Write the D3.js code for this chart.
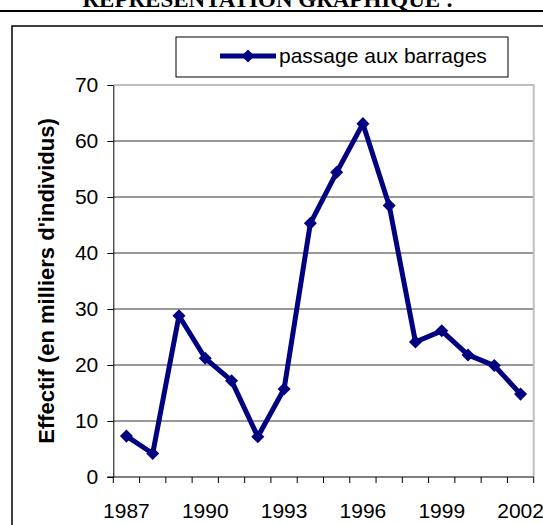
<!DOCTYPE html>
<html><head><meta charset="utf-8">
<script src="https://cdn.jsdelivr.net/npm/d3@7/dist/d3.min.js"></script>
<style>body{margin:0;background:#fff}svg{display:block}</style>
</head><body>
<script>
const years = [1987,1988,1989,1990,1991,1992,1993,1994,1995,1996,1997,1998,1999,2000,2001,2002];
const passage = [7.3,4.2,28.8,21.2,17.2,7.2,15.7,45.3,54.4,63.1,48.5,24.1,26.1,21.8,19.9,14.8];
const yTicks = [0,10,20,30,40,50,60,70];
const xLabels = [1987,1990,1993,1996,1999,2002];
const seriesName = "passage aux barrages";
const yTitle = "Effectif (en milliers d'individus)";
const pageTitle = "REPRÉSENTATION GRAPHIQUE :";

const W = 543, H = 525;
const svg = d3.select("body").append("svg").attr("width", W).attr("height", H);

// page title (cut at top) and rule
svg.append("text").attr("x", 268).attr("y", 7).attr("text-anchor", "middle")
  .attr("font-family", "Liberation Serif, serif").attr("font-weight", "bold")
  .attr("font-size", 23).text(pageTitle);
svg.append("line").attr("x1", 0).attr("x2", W).attr("y1", 11).attr("y2", 11)
  .attr("stroke", "#000").attr("stroke-width", 2);

// chart border
svg.append("rect").attr("x", 12).attr("y", 26).attr("width", 560).attr("height", 520)
  .attr("fill", "none").attr("stroke", "#000").attr("stroke-width", 1.5);

const x0 = 113.3, x1 = 533.7, yBot = 477, yTop = 85;
const x = d3.scaleBand().domain(years).range([x0, x1]);
const y = d3.scaleLinear().domain([0, 70]).range([yBot, yTop]);

// gridlines
svg.append("g").selectAll("line").data(yTicks.filter(v => v > 0 && v < 70)).join("line")
  .attr("x1", x0).attr("x2", x1).attr("y1", d => y(d)).attr("y2", d => y(d))
  .attr("stroke", "#333").attr("stroke-width", 1);

// plot area border (top/right gray)
svg.append("path").attr("d", `M${x0},${y(70)}H${x1}V${yBot}`)
  .attr("fill", "none").attr("stroke", "#c0c0c0").attr("stroke-width", 2);

// y axis
const yAxis = d3.axisLeft(y).tickValues(yTicks).tickSize(6).tickPadding(9).tickSizeOuter(0);
const gy = svg.append("g").attr("transform", `translate(${x0},0)`).call(yAxis);
gy.select(".domain").attr("stroke", "#000");
gy.selectAll(".tick line").attr("stroke", "#000");
gy.selectAll("text").attr("font-family", "Liberation Sans, Arial, sans-serif")
  .attr("font-size", 21).attr("fill", "#000");

// x axis: ticks at band boundaries, labels at band centers
const boundaries = years.map(d => x(d)).concat([x1]);
const gx = svg.append("g");
gx.append("line").attr("x1", x0 - 6).attr("x2", x1).attr("y1", yBot).attr("y2", yBot).attr("stroke", "#000");
gx.selectAll("line.tk").data(boundaries).join("line").attr("class", "tk")
  .attr("x1", d => d).attr("x2", d => d).attr("y1", yBot).attr("y2", yBot + 6).attr("stroke", "#000");
gx.selectAll("text").data(xLabels).join("text")
  .attr("x", d => x(d) + x.bandwidth() / 2).attr("y", 518).attr("text-anchor", "middle")
  .attr("font-family", "Liberation Sans, Arial, sans-serif").attr("font-size", 21).text(d => d);

// y title
svg.append("text").attr("transform", `translate(54,281) rotate(-90)`).attr("text-anchor", "middle")
  .attr("font-family", "Liberation Sans, Arial, sans-serif").attr("font-weight", "bold")
  .attr("font-size", 22).text(yTitle);

// line + markers
const cx = d => x(d) + x.bandwidth() / 2;
const navy = "#000080";
const line = d3.line().x((d, i) => cx(years[i])).y(d => y(d));
svg.append("path").datum(passage).attr("d", line).attr("fill", "none")
  .attr("stroke", navy).attr("stroke-width", 5).attr("stroke-linejoin", "round");
svg.append("g").selectAll("path").data(passage).join("path")
  .attr("d", d3.symbol().type(d3.symbolSquare).size(85))
  .attr("transform", (d, i) => `translate(${cx(years[i])},${y(d)}) rotate(45)`)
  .attr("fill", navy);

// legend
svg.append("rect").attr("x", 176).attr("y", 37).attr("width", 332).attr("height", 40)
  .attr("fill", "#fff").attr("stroke", "#000").attr("stroke-width", 1);
svg.append("line").attr("x1", 220).attr("x2", 276).attr("y1", 56).attr("y2", 56)
  .attr("stroke", navy).attr("stroke-width", 5);
svg.append("path").attr("d", d3.symbol().type(d3.symbolSquare).size(85))
  .attr("transform", "translate(248,56) rotate(45)").attr("fill", navy);
svg.append("text").attr("x", 279).attr("y", 63).attr("font-family", "Liberation Sans, Arial, sans-serif")
  .attr("font-size", 21).text(seriesName);
</script>
</body></html>
